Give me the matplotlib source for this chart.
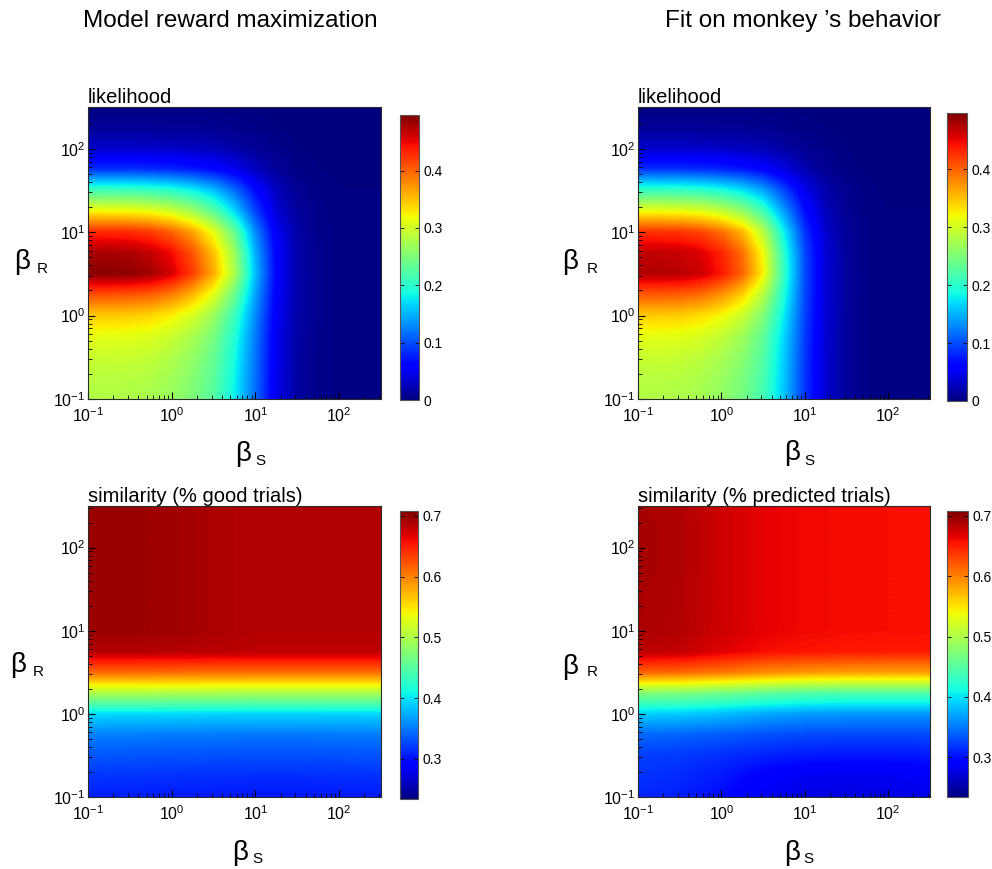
import numpy as np
import matplotlib
matplotlib.use("Agg")
import matplotlib.pyplot as plt
from matplotlib.image import AxesImage
from matplotlib.colors import Normalize
from matplotlib.transforms import Affine2D
from matplotlib.ticker import LogLocator, NullFormatter

plt.rcParams['font.family'] = ['Liberation Sans', 'DejaVu Sans']
plt.rcParams['mathtext.fontset'] = 'custom'
plt.rcParams['mathtext.rm'] = 'Liberation Sans'
plt.rcParams['mathtext.it'] = 'Liberation Sans:italic'
plt.rcParams['mathtext.default'] = 'regular'

# ---------------- data ----------------
# sample positions (log10 of beta) at which the values were read
lik_log_beta_s = [-1, -0.75, -0.5, -0.25, 0, 0.25, 0.5, 0.75, 1, 1.25, 1.5, 1.75, 2, 2.25, 2.5]
lik_log_beta_r = [-1, -0.75, -0.5, -0.25, 0, 0.25, 0.5, 0.75, 1, 1.25, 1.5, 1.75, 2, 2.25, 2.5]
sim_log_beta_s = [-1, -0.5, 0, 0.5, 1, 1.5, 2, 2.5]
sim_log_beta_r = [-1, -0.75, -0.5, -0.25, 0, 0.25, 0.5, 0.75, 1, 1.25, 1.5, 1.75, 2, 2.25, 2.5]

# likelihood, model reward maximization (rows: beta_R from low to high)
lik_model = [
    [.280, .280, .279, .276, .266, .250, .225, .180, .115, .048, .016, .006, .003, .002, .002],
    [.285, .285, .284, .281, .271, .255, .229, .183, .117, .048, .016, .006, .003, .002, .002],
    [.295, .295, .294, .291, .280, .263, .236, .188, .119, .049, .016, .006, .003, .002, .002],
    [.312, .312, .311, .307, .295, .277, .247, .196, .123, .050, .017, .006, .003, .002, .002],
    [.345, .345, .344, .339, .326, .303, .268, .210, .130, .053, .018, .007, .003, .002, .002],
    [.410, .410, .408, .402, .386, .356, .310, .240, .142, .057, .019, .007, .003, .002, .002],
    [.492, .492, .490, .481, .460, .420, .362, .278, .155, .062, .020, .007, .003, .002, .002],
    [.478, .478, .476, .467, .446, .408, .350, .268, .148, .059, .019, .007, .003, .002, .002],
    [.430, .430, .428, .420, .400, .365, .312, .235, .130, .052, .017, .006, .003, .002, .002],
    [.320, .320, .318, .312, .297, .270, .228, .168, .094, .038, .013, .005, .002, .002, .002],
    [.210, .210, .209, .205, .196, .180, .155, .115, .065, .027, .009, .004, .002, .002, .002],
    [.085, .085, .085, .083, .080, .074, .064, .048, .028, .012, .004, .002, .001, .001, .001],
    [.032, .032, .032, .031, .030, .028, .024, .018, .011, .005, .002, .001, .001, .001, .001],
    [.010, .010, .010, .010, .009, .009, .008, .006, .004, .002, .001, .001, .001, .001, .001],
    [.003, .003, .003, .003, .003, .003, .002, .002, .001, .001, .001, .001, .001, .001, .001],
]

# likelihood, fit on monkey's behaviour
lik_monkey = [
    [.280, .280, .278, .273, .262, .245, .215, .158, .088, .035, .012, .004, .002, .002, .002],
    [.285, .285, .283, .278, .267, .249, .218, .160, .089, .035, .012, .004, .002, .002, .002],
    [.295, .295, .293, .288, .276, .257, .224, .163, .090, .035, .012, .004, .002, .002, .002],
    [.312, .312, .310, .304, .291, .270, .233, .168, .092, .036, .012, .004, .002, .002, .002],
    [.345, .345, .343, .336, .321, .296, .252, .178, .095, .037, .012, .004, .002, .002, .002],
    [.405, .405, .403, .395, .376, .343, .285, .192, .098, .038, .013, .004, .002, .002, .002],
    [.475, .475, .472, .463, .440, .400, .326, .205, .100, .038, .013, .004, .002, .002, .002],
    [.468, .468, .465, .456, .434, .394, .319, .200, .098, .037, .012, .004, .002, .002, .002],
    [.425, .425, .423, .414, .393, .355, .285, .180, .088, .034, .011, .004, .002, .002, .002],
    [.315, .315, .313, .307, .291, .262, .212, .138, .068, .027, .009, .003, .002, .002, .002],
    [.205, .205, .204, .200, .190, .172, .142, .095, .048, .019, .007, .003, .001, .001, .001],
    [.085, .085, .085, .083, .079, .072, .060, .042, .022, .009, .003, .001, .001, .001, .001],
    [.032, .032, .032, .031, .030, .027, .023, .016, .009, .004, .002, .001, .001, .001, .001],
    [.010, .010, .010, .010, .009, .009, .007, .005, .003, .002, .001, .001, .001, .001, .001],
    [.003, .003, .003, .003, .003, .003, .002, .002, .001, .001, .001, .001, .001, .001, .001],
]

# similarity (% good trials), model reward maximization
sim_model = [
    [.308, .307, .306, .305, .304, .304, .305, .306],
    [.318, .317, .316, .315, .314, .314, .315, .316],
    [.334, .333, .332, .331, .330, .330, .331, .332],
    [.353, .352, .351, .350, .349, .349, .350, .351],
    [.395, .395, .394, .393, .392, .392, .393, .393],
    [.500, .500, .499, .498, .497, .497, .497, .497],
    [.612, .612, .611, .610, .610, .610, .610, .610],
    [.686, .686, .685, .684, .683, .683, .683, .683],
    [.696, .696, .694, .689, .686, .686, .686, .686],
    [.696, .696, .694, .689, .686, .686, .686, .686],
    [.696, .696, .694, .689, .686, .686, .686, .686],
    [.696, .696, .694, .689, .686, .686, .686, .686],
    [.696, .696, .694, .689, .686, .686, .686, .686],
    [.696, .696, .694, .689, .686, .686, .686, .686],
    [.696, .696, .694, .689, .686, .686, .686, .686],
]

# similarity (% predicted trials), fit on monkey's behaviour
sim_monkey = [
    [.311, .308, .298, .283, .276, .275, .276, .280],
    [.317, .313, .305, .290, .282, .281, .282, .285],
    [.323, .320, .315, .309, .305, .303, .303, .305],
    [.342, .340, .336, .331, .328, .327, .327, .327],
    [.390, .388, .382, .372, .366, .364, .364, .364],
    [.475, .472, .465, .455, .448, .445, .445, .445],
    [.615, .612, .605, .595, .588, .585, .585, .585],
    [.683, .680, .668, .658, .655, .653, .652, .652],
    [.689, .686, .675, .665, .661, .659, .658, .657],
    [.690, .687, .676, .665, .661, .659, .658, .657],
    [.690, .687, .676, .665, .661, .659, .658, .657],
    [.691, .688, .676, .665, .661, .659, .658, .657],
    [.691, .688, .676, .665, .661, .659, .658, .657],
    [.691, .688, .676, .665, .661, .659, .658, .657],
    [.690, .687, .676, .665, .661, .659, .658, .657],
]

lik_range = (0.0, 0.497)
sim_range = (0.234, 0.708)
lik_cbar_ticks = [0, 0.1, 0.2, 0.3, 0.4]
sim_cbar_ticks = [0.3, 0.4, 0.5, 0.6, 0.7]

fig_titles = ["Model reward maximization", "Fit on monkey \u2019s behavior"]
panel_titles = ["likelihood", "likelihood", "similarity (% good trials)", "similarity (% predicted trials)"]

# ---------------- figure ----------------
W, H = 992, 869
fig = plt.figure(figsize=(W / 100, H / 100), dpi=100)


def rect(x0, y0, x1, y1):
    return [x0 / W, 1 - y1 / H, (x1 - x0) / W, (y1 - y0) / H]


LOGMIN, LOGMAX = -1.0, 2.5
frame_col = '#2b2b2b'


def heat(ax_rect, cax_rect, grid, lx, ly, vrange, cticks, title):
    ax = fig.add_axes(rect(*ax_rect))
    ax.set_xscale('log')
    ax.set_yscale('log')
    ax.set_xlim(10 ** LOGMIN, 10 ** LOGMAX)
    ax.set_ylim(10 ** LOGMIN, 10 ** LOGMAX)
    g = np.asarray(grid, float)
    lx = np.asarray(lx, float)
    ly = np.asarray(ly, float)
    dx = (lx[-1] - lx[0]) / (len(lx) - 1)
    dy = (ly[-1] - ly[0]) / (len(ly) - 1)
    # image lives in log10(beta) space, mapped onto the axes box
    tr = (Affine2D().translate(-LOGMIN, -LOGMIN)
          .scale(1 / (LOGMAX - LOGMIN), 1 / (LOGMAX - LOGMIN)) + ax.transAxes)
    im = AxesImage(ax, cmap='jet', norm=Normalize(*vrange), interpolation='bilinear',
                   interpolation_stage='data', origin='lower',
                   extent=(lx[0] - dx / 2, lx[-1] + dx / 2, ly[0] - dy / 2, ly[-1] + dy / 2))
    im.set_transform(tr)
    im.set_data(g)
    im.set_clip_path(ax.patch)
    ax.add_image(im)

    ax.xaxis.set_major_locator(LogLocator(base=10, numticks=10))
    ax.yaxis.set_major_locator(LogLocator(base=10, numticks=10))
    ax.xaxis.set_minor_locator(LogLocator(base=10, subs=np.arange(2, 10), numticks=20))
    ax.yaxis.set_minor_locator(LogLocator(base=10, subs=np.arange(2, 10), numticks=20))
    ax.xaxis.set_minor_formatter(NullFormatter())
    ax.yaxis.set_minor_formatter(NullFormatter())
    ax.tick_params(which='major', direction='in', length=5, width=0.8, labelsize=11.5,
                   top=False, right=False, color='black')
    ax.tick_params(which='minor', direction='in', length=3, width=0.6,
                   top=False, right=False, color='black')
    ax.tick_params(axis='x', which='major', pad=5)
    ax.tick_params(axis='y', which='major', pad=2)
    for s in ax.spines.values():
        s.set_linewidth(0.8)
        s.set_color(frame_col)
    ax.set_title(title, loc='left', fontsize=14.5, pad=1)

    cax = fig.add_axes(rect(*cax_rect))
    cb = fig.colorbar(im, cax=cax)
    cb.set_ticks(cticks)
    cb.set_ticklabels([('%g' % t) for t in cticks])
    cax.tick_params(direction='in', length=3, width=0.6, left=True, right=True,
                    labelsize=10, pad=3)
    cb.outline.set_linewidth(0.8)
    cb.outline.set_edgecolor('#555555')
    return ax


heat((88, 107, 381, 399), (400, 115, 419, 400), lik_model, lik_log_beta_s, lik_log_beta_r,
     lik_range, lik_cbar_ticks, panel_titles[0])
heat((638, 107, 930, 399), (947, 113, 967, 401), lik_monkey, lik_log_beta_s, lik_log_beta_r,
     lik_range, lik_cbar_ticks, panel_titles[1])
heat((88, 506, 381, 797), (400, 511, 418, 799), sim_model, sim_log_beta_s, sim_log_beta_r,
     sim_range, sim_cbar_ticks, panel_titles[2])
heat((638, 506, 930, 797), (947, 511, 968, 797), sim_monkey, sim_log_beta_s, sim_log_beta_r,
     sim_range, sim_cbar_ticks, panel_titles[3])


def ftext(x, y, s, **kw):
    fig.text(x / W, 1 - y / H, s, **kw)


ftext(230, 21, fig_titles[0], ha='center', va='center', fontsize=17.5)
ftext(803, 21, fig_titles[1], ha='center', va='center', fontsize=17.5)

# axis labels beta_R / beta_S
for (bx, by, rx, ry) in [(22, 262, 42, 273), (570, 262, 592, 273),
                         (18, 665, 38, 676), (570, 667, 592, 676)]:
    ftext(bx, by, "\u03b2", ha='center', va='center', fontsize=20)
    ftext(rx, ry, "R", ha='center', va='baseline', fontsize=11)
for (bx, by, sx, sy) in [(243, 454, 260, 465), (792, 453, 809, 465),
                         (240, 853, 257, 863), (792, 853, 808, 863)]:
    ftext(bx, by, "\u03b2", ha='center', va='center', fontsize=20)
    ftext(sx, sy, "S", ha='center', va='baseline', fontsize=11)

fig.savefig("out.png", dpi=100)
